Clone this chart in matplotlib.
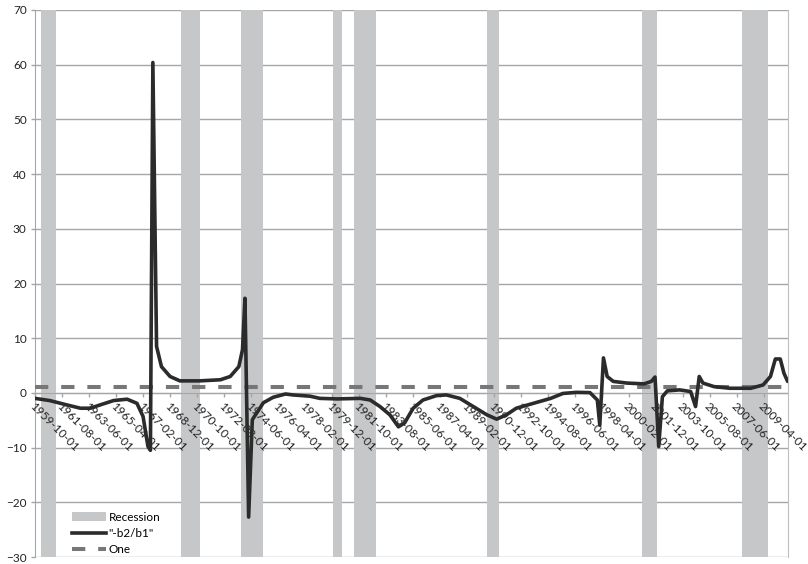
import matplotlib
matplotlib.use("Agg")
import matplotlib.pyplot as plt
from matplotlib.patches import Patch
from matplotlib.lines import Line2D

plt.rcParams['font.family'] = ['Lato', 'DejaVu Sans']

# ---------------- data ----------------
line_dates = [
    "1959-10", "1960-10", "1961-12", "1962-11", "1963-07", "1964-03", "1965-02",
    "1966-01", "1966-09", "1967-02", "1967-06", "1967-08", "1967-10", "1968-01",
    "1968-05", "1968-12", "1969-08", "1970-12", "1972-05", "1973-01", "1973-08",
    "1973-11", "1974-01", "1974-04", "1974-07", "1975-04", "1975-12", "1976-10",
    "1977-04", "1978-06", "1979-02", "1980-04", "1981-11", "1982-07", "1983-03",
    "1983-11", "1984-06", "1984-11", "1985-06", "1986-02", "1987-01", "1987-09",
    "1988-08", "1989-07", "1990-06", "1991-02", "1991-10", "1992-06", "1993-08",
    "1994-10", "1995-08", "1996-07", "1997-06", "1997-12", "1998-02", "1998-05",
    "1998-08", "1999-01", "1999-12", "2001-02", "2001-08", "2001-11", "2002-02",
    "2002-05", "2002-09", "2003-07", "2004-04", "2004-08", "2004-11", "2005-02",
    "2005-11", "2006-12", "2008-05", "2009-03", "2009-09", "2010-01", "2010-05",
    "2010-08", "2010-11",
]
line_values = [
    -1.0, -1.4, -2.2, -2.8, -2.8, -2.2, -1.4,
    -1.15, -1.9, -4.3, -9.8, -10.5, 60.4, 8.5,
    4.8, 3.0, 2.2, 2.2, 2.4, 3.0, 4.8,
    7.9, 17.3, -22.7, -4.9, -1.8, -0.8, -0.2,
    -0.37, -0.6, -1.0, -1.1, -1.0, -1.3, -2.5,
    -4.0, -6.2, -5.5, -2.8, -1.3, -0.5, -0.37,
    -1.0, -2.5, -4.0, -4.8, -4.0, -2.8, -1.9,
    -1.0, -0.1, 0.1, 0.05, -1.3, -5.9, 6.4,
    3.0, 2.1, 1.8, 1.65, 2.1, 2.9, -9.8,
    -0.7, 0.37, 0.55, 0.25, -2.5, 3.0, 1.8,
    1.15, 0.85, 0.85, 1.45, 3.0, 6.2, 6.2,
    3.6, 2.1,
]
recession_starts = ["1960-03", "1969-09", "1973-10", "1980-01", "1981-06",
                    "1990-06", "2000-12", "2007-10"]
recession_ends = ["1961-02", "1970-11", "1975-03", "1980-07", "1982-11",
                  "1991-03", "2001-12", "2009-06"]
tick_labels = [
    "1959-10-01", "1961-08-01", "1963-06-01", "1965-04-01", "1967-02-01",
    "1968-12-01", "1970-10-01", "1972-08-01", "1974-06-01", "1976-04-01",
    "1978-02-01", "1979-12-01", "1981-10-01", "1983-08-01", "1985-06-01",
    "1987-04-01", "1989-02-01", "1990-12-01", "1992-10-01", "1994-08-01",
    "1996-06-01", "1998-04-01", "2000-02-01", "2001-12-01", "2003-10-01",
    "2005-08-01", "2007-06-01", "2009-04-01",
]
one_value = 1.0
first_month = "1959-10"
last_month = "2010-11"


def month_index(s):
    y, m = int(s[:4]), int(s[5:7])
    return (y - int(first_month[:4])) * 12 + (m - int(first_month[5:7]))


# ---------------- figure ----------------
fig = plt.figure(figsize=(8.08, 5.64), dpi=100)
ax = fig.add_axes([35 / 808, 1 - 557 / 564, 753 / 808, 547 / 564])

x_line = [month_index(d) for d in line_dates]
x_end = month_index(last_month)

ax.set_xlim(0, x_end + 0.3)
ax.set_ylim(-30, 70)

grid_color = '#A6A6A6'
ax.set_yticks(range(-30, 71, 10))
ax.yaxis.grid(True, color=grid_color, linewidth=1.0, zorder=0)
ax.set_axisbelow(True)
ax.xaxis.set_zorder(2.5)

rec_color = '#C6C7C9'
for s, e in zip(recession_starts, recession_ends):
    ax.axvspan(month_index(s), month_index(e) + 1, color=rec_color, lw=0, zorder=1)

ax.plot([0, x_end], [one_value, one_value], color='#777777', lw=2.9,
        linestyle=(0, (3.3, 3.2)), zorder=3)
ax.plot(x_line, line_values, color='#2B2B2B', lw=2.6, solid_joinstyle='round',
        solid_capstyle='round', zorder=4)

# spines
ax.spines['top'].set_visible(False)
ax.spines['bottom'].set_position(('data', 0))
ax.spines['bottom'].set_color(grid_color)
ax.spines['bottom'].set_zorder(2)
ax.spines['left'].set_color(grid_color)
ax.spines['right'].set_color('#BFBFBF')

# x ticks
tick_pos = [month_index(t[:7]) for t in tick_labels]
ax.set_xticks(tick_pos)
ax.set_xticklabels(tick_labels)
ax.tick_params(axis='x', direction='out', length=3, width=1, color=grid_color,
               pad=2.5, labelsize=8.5, labelcolor='#222222')
for lab in ax.get_xticklabels():
    lab.set_rotation(-45)
    lab.set_ha('left')
    lab.set_va('top')
    lab.set_rotation_mode('anchor')

ax.tick_params(axis='y', direction='out', length=3, width=1, color=grid_color,
               pad=3, labelsize=8.5, labelcolor='#222222')

handles = [
    Patch(facecolor=rec_color, edgecolor='none', label='Recession'),
    Line2D([0], [0], color='#2B2B2B', lw=2.6, label='"-b2/b1"'),
    Line2D([0], [0], color='#777777', lw=2.9, linestyle=(0, (3.3, 3.2)), label='One'),
]
leg = ax.legend(handles=handles, loc='lower left', bbox_to_anchor=(0.049, 0.003),
                frameon=False, fontsize=8.5, handlelength=2.9, handletextpad=0.2,
                labelspacing=0.45, borderpad=0, borderaxespad=0)

fig.savefig('out.png', dpi=100)
